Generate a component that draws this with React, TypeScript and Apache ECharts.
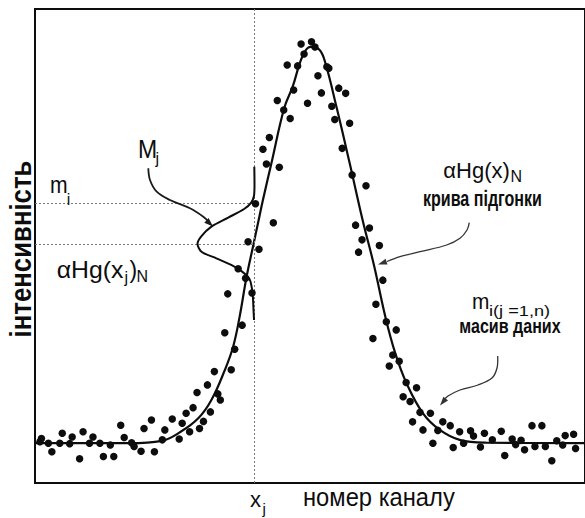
import React, { useEffect, useRef } from "react";
import * as echarts from "echarts";

// measured data points (channel number, intensity)
const channels = [
  1.0, 1.3, 2.7, 3.4, 5.0, 5.5, 7.0, 7.5, 9.0, 9.7, 11.0, 11.7, 13.1, 13.8, 15.2, 15.9, 17.3, 18.0, 19.5, 20.0,
  21.4, 22.0, 23.5, 24.1, 25.7, 26.2, 27.7, 29.1, 29.7, 30.5, 31.2, 31.9, 32.7, 33.2, 34.0, 34.8, 35.4, 36.2, 36.9, 37.4,
  38.3, 38.9, 39.6, 40.3, 41.0, 41.8, 42.5, 43.0, 43.8, 44.5, 45.2, 46.0, 46.7, 47.3, 48.1, 48.9, 49.3, 50.2, 50.9, 51.5,
  52.2, 53.0, 53.7, 54.3, 55.0, 55.8, 56.5, 57.1, 57.8, 58.9, 59.3, 59.9, 60.5, 61.3, 62.0, 62.7, 63.5, 64.0, 64.7, 65.3,
  66.0, 66.8, 67.5, 68.2, 68.8, 69.5, 70.2, 70.9, 71.5, 72.2, 72.9, 73.5, 74.3, 74.9, 75.7, 76.2, 77.0, 77.7, 78.3, 79.8,
  80.3, 81.3, 82.3, 83.8, 84.4, 85.7, 86.5, 87.9, 88.5, 89.9, 90.7, 92.3, 94.1, 94.8, 96.3, 97.0, 98.1, 98.8, 100.3, 100.9,
  102.3, 103.0, 104.3, 105.3, 106.5, 107.0, 108.7, 109.1,
];
const counts = [
  8.7, 9.4, 8.4, 6.6, 8.4, 10.5, 8.3, 9.7, 5.1, 10.8, 8.4, 9.7, 8.4, 5.6, 8.0, 5.6, 12.2, 9.6, 8.5, 7.7,
  6.7, 11.5, 13.3, 6.6, 9.1, 11.2, 13.5, 9.3, 12.6, 14.7, 10.8, 15.9, 19.1, 11.5, 13.0, 20.7, 15.0, 23.5, 18.8, 17.5,
  31.7, 39.9, 23.9, 28.2, 45.2, 33.3, 43.2, 50.9, 40.1, 58.9, 49.3, 70.4, 67.3, 72.9, 54.9, 80.7, 66.6, 78.7, 88.2, 76.9,
  82.9, 88.0, 92.6, 90.5, 80.1, 93.1, 92.0, 85.9, 82.3, 87.8, 87.5, 79.5, 76.7, 83.3, 70.6, 82.2, 75.9, 65.0, 54.4, 48.7,
  51.3, 62.7, 53.8, 30.5, 37.7, 50.1, 42.8, 34.0, 24.7, 27.0, 32.3, 25.7, 18.2, 21.2, 17.2, 12.9, 20.1, 14.9, 11.2, 14.7,
  8.4, 11.1, 12.9, 12.1, 7.5, 10.8, 8.4, 11.0, 9.9, 7.6, 10.5, 9.1, 10.9, 5.8, 9.3, 8.1, 9.0, 7.0, 12.1, 7.7,
  12.1, 7.7, 4.7, 8.9, 8.0, 10.0, 10.3, 7.3,
];

// fitted curve αHg(x)N
const fitChannels = [0, 19, 25.6, 29.4, 33, 35.6, 38.3, 40, 41.3, 42.7, 44, 45, 46, 47.7, 50.3, 52, 54, 55.6, 57.4, 58.6, 60.9, 63.5, 66.2, 68.4, 70.7, 72.7, 75, 78.3, 81.7, 85.7, 91, 111];
const fitCounts = [8.4, 8.4, 8.9, 10.8, 13.7, 17.5, 23.8, 28.8, 35.1, 43.5, 49.9, 54.8, 59.7, 67.4, 79.1, 83.6, 90.1, 92.0, 91.4, 88.6, 79.1, 67.5, 55.1, 46.0, 35.1, 27.4, 21.0, 14.7, 11.2, 9.1, 8.5, 8.4];

// the small sideways distribution M_j drawn at x_j
const mjChannels = [44.26, 44.3, 44.2, 43.6, 42.2, 39.0, 35.6, 33.6, 32.8, 33.6, 36.6, 39.6, 41.8, 43.3, 43.9, 44.1, 44.2];
const mjCounts = [66.7, 62.9, 60.6, 59.1, 57.8, 56.0, 54.1, 52.1, 50.5, 48.8, 47.4, 46.0, 44.6, 43.0, 40.1, 36.5, 34.4];

const xjChannel = 44.3;
const miLevel = 59.0;
const hgLevel = 50.4;

const FONT = '"Liberation Sans", Arial, Helvetica, sans-serif';
const INK = "#0d0d0d";

function label(text: string, x: number, base: number, fs: number, opt: { sx?: number; bold?: boolean } = {}) {
  return {
    type: "text",
    x,
    y: base - 0.35 * fs,
    z: 20,
    scaleX: opt.sx ?? 1,
    style: {
      text,
      fill: INK,
      fontSize: fs,
      fontFamily: FONT,
      fontWeight: opt.bold ? "bold" : "normal",
      align: "left",
      verticalAlign: "middle",
    },
  };
}

function arrowHead(tip: number[], from: number[], len: number, half: number, color: string) {
  const dx = tip[0] - from[0];
  const dy = tip[1] - from[1];
  const d = Math.hypot(dx, dy) || 1;
  const ux = dx / d;
  const uy = dy / d;
  const bx = tip[0] - ux * len;
  const by = tip[1] - uy * len;
  return {
    type: "polygon",
    z: 16,
    shape: { points: [tip, [bx - uy * half, by + ux * half], [bx + uy * half, by - ux * half]] },
    style: { fill: color },
  };
}

function curve(points: number[][], width: number, color: string) {
  return {
    type: "polyline",
    z: 15,
    shape: { points, smooth: 0.35 },
    style: { stroke: color, lineWidth: width, fill: null },
  };
}

export default function App() {
  const ref = useRef<HTMLDivElement>(null);

  useEffect(() => {
    if (!ref.current) return;
    const chart = echarts.init(ref.current, undefined, { renderer: "svg" });

    const mjArrow = [[148.3, 168.3], [150, 180], [156.7, 191.7], [170, 200], [190, 208.3], [203.3, 216.7], [209, 222]];
    const fitArrow = [[469.3, 222.7], [467, 230], [460, 238.3], [446.7, 245], [420, 251.7], [400, 256.7], [387, 261.5]];
    const dataArrow = [[497.7, 356], [497, 368], [492, 378], [478, 385], [460, 390], [448, 396], [444, 400]];

    chart.setOption({
      animation: false,
      backgroundColor: "#fff",
      grid: { left: 35, right: -5, top: 9, bottom: 35, show: true, borderColor: INK, borderWidth: 2 },
      xAxis: {
        type: "value",
        min: 0,
        max: 111,
        axisLine: { show: false },
        axisTick: { show: false },
        axisLabel: { show: false },
        splitLine: { show: false },
      },
      yAxis: {
        type: "value",
        min: 0,
        max: 100,
        axisLine: { show: false },
        axisTick: { show: false },
        axisLabel: { show: false },
        splitLine: { show: false },
      },
      series: [
        {
          type: "scatter",
          data: channels.map((c, i) => [c, counts[i]]),
          symbolSize: 7.5,
          itemStyle: { color: INK, opacity: 1 },
          z: 5,
          markLine: {
            silent: true,
            symbol: "none",
            label: { show: false },
            lineStyle: { type: [2, 2], color: "#777", width: 1 },
            data: [
              { xAxis: xjChannel },
              [{ coord: [0, miLevel] }, { coord: [xjChannel, miLevel] }],
              [{ coord: [0, hgLevel] }, { coord: [xjChannel, hgLevel] }],
            ],
          },
        },
        {
          type: "line",
          data: fitChannels.map((c, i) => [c, fitCounts[i]]),
          showSymbol: false,
          smooth: 0.4,
          lineStyle: { color: INK, width: 2.2 },
          z: 4,
        },
        {
          type: "line",
          data: mjChannels.map((c, i) => [c, mjCounts[i]]),
          showSymbol: false,
          smooth: 0.3,
          lineStyle: { color: INK, width: 2 },
          z: 6,
        },
      ],
      graphic: [
        curve(mjArrow, 1.8, "#1a1a1a"),
        arrowHead([213, 226.5], [205, 219], 9, 3.2, "#1a1a1a"),
        curve(fitArrow, 1.3, "#333"),
        arrowHead([378, 264.5], [390, 260.5], 9, 3, "#333"),
        curve(dataArrow, 1.3, "#333"),
        arrowHead([440, 405.5], [447, 397], 9, 3, "#333"),

        label("M", 138, 158.3, 25, { sx: 0.92 }),
        label("j", 155.5, 164.5, 16),
        label("m", 50, 193.3, 24, { sx: 0.88 }),
        label("i", 66.7, 205, 16),
        label("αHg(x", 56.7, 278.3, 23, { sx: 1.08 }),
        label("j", 124.5, 283.5, 16),
        label(")", 129.5, 278.3, 23),
        label("N", 136.5, 282, 16),

        label("αHg(x)", 443.3, 177.7, 22),
        label("N", 510.5, 181.7, 16),
        label("крива підгонки", 423, 206.7, 22, { sx: 0.73, bold: true }),
        label("m", 472, 310, 22, { sx: 0.95 }),
        label("i(j =1,n)", 489, 315.5, 14, { sx: 1.3 }),
        label("масив даних", 459.3, 332.7, 21, { sx: 0.765, bold: true }),

        label("x", 250, 506.7, 22),
        label("j", 262.5, 513.5, 15),
        label("номер каналу", 303, 506.5, 25, { sx: 0.95 }),
        {
          type: "text",
          x: 20.5,
          y: 249,
          rotation: Math.PI / 2,
          scaleX: 0.86,
          z: 20,
          style: {
            text: "інтенсивність",
            fill: INK,
            fontSize: 30,
            fontFamily: FONT,
            fontWeight: "bold",
            align: "center",
            verticalAlign: "middle",
          },
        },
      ],
    });

    return () => chart.dispose();
  }, []);

  return (
    <div
      ref={ref}
      style={{ position: "fixed", left: 0, top: 0, width: 585, height: 518, background: "#fff" }}
    />
  );
}
